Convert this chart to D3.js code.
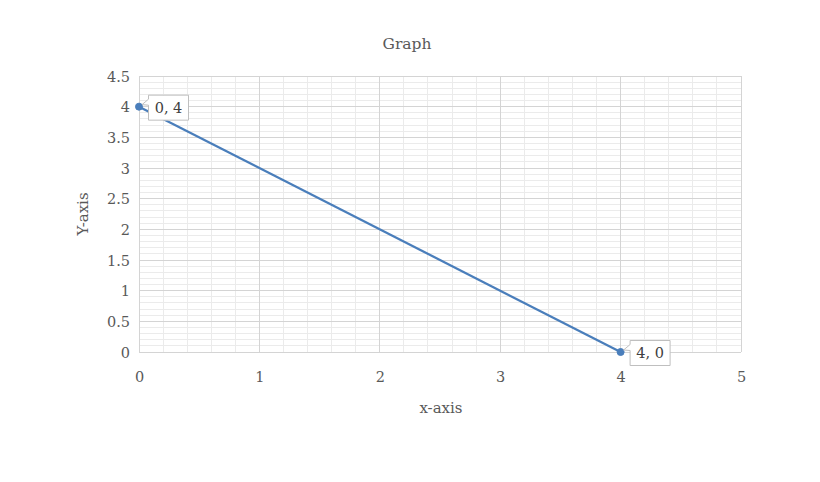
<!DOCTYPE html>
<html><head><meta charset="utf-8">
<script src="https://cdn.jsdelivr.net/npm/d3@7"></script>
<style>body{margin:0;background:#fff}svg{display:block}</style>
</head><body>
<svg id="c" width="820" height="482"></svg>
<script>
const xs = [0, 4];
const ys = [4, 0];
const pointLabels = ["0, 4", "4, 0"];
const xTicks = [0, 1, 2, 3, 4, 5];
const yTicks = [0, 0.5, 1, 1.5, 2, 2.5, 3, 3.5, 4, 4.5];
const title = "Graph";
const xTitle = "x-axis";
const yTitle = "Y-axis";

const svg = d3.select("#c");
const font = "'DejaVu Serif', serif";
const x = d3.scaleLinear().domain([0, 5]).range([139, 741]);
const y = d3.scaleLinear().domain([0, 4.5]).range([352, 76]);

// minor grid
const g = svg.append("g");
g.selectAll(".mx").data(d3.range(0, 5.0001, 0.2)).join("line")
  .attr("x1", d => x(d)).attr("x2", d => x(d)).attr("y1", y(0)).attr("y2", y(4.5))
  .attr("stroke", "#ebebeb").attr("stroke-width", 1).attr("shape-rendering", "crispEdges");
g.selectAll(".my").data(d3.range(0, 4.5001, 0.1)).join("line")
  .attr("y1", d => y(d)).attr("y2", d => y(d)).attr("x1", x(0)).attr("x2", x(5))
  .attr("stroke", "#ebebeb").attr("stroke-width", 1).attr("shape-rendering", "crispEdges");
// major grid
g.selectAll(".Mx").data(xTicks).join("line")
  .attr("x1", d => x(d)).attr("x2", d => x(d)).attr("y1", y(0)).attr("y2", y(4.5))
  .attr("stroke", "#d4d4d4").attr("stroke-width", 1).attr("shape-rendering", "crispEdges");
g.selectAll(".My").data(yTicks).join("line")
  .attr("y1", d => y(d)).attr("y2", d => y(d)).attr("x1", x(0)).attr("x2", x(5))
  .attr("stroke", "#d4d4d4").attr("stroke-width", 1).attr("shape-rendering", "crispEdges");

// axes
const xAxis = svg.append("g").attr("transform", `translate(0,${y(0)})`)
  .call(d3.axisBottom(x).tickValues(xTicks).tickSize(0).tickPadding(22).tickFormat(d3.format("d")));
const yAxis = svg.append("g").attr("transform", `translate(${x(0)},0)`)
  .call(d3.axisLeft(y).tickValues(yTicks).tickSize(0).tickPadding(9).tickFormat(d => String(d)));
[xAxis, yAxis].forEach(a => {
  a.select(".domain").remove();
  a.selectAll("text").attr("font-family", font).attr("font-size", 14.5).attr("fill", "#595959");
});
yAxis.selectAll("text").attr("dy", "0.35em");
xAxis.selectAll("text").attr("dy", "0.55em");

// line
const pts = xs.map((d, i) => [d, ys[i]]);
svg.append("path").datum(pts)
  .attr("d", d3.line().x(d => x(d[0])).y(d => y(d[1])))
  .attr("fill", "none").attr("stroke", "#4a7ebb").attr("stroke-width", 2.25);
svg.selectAll(".pt").data(pts).join("circle")
  .attr("cx", d => x(d[0])).attr("cy", d => y(d[1])).attr("r", 3.5)
  .attr("fill", "#4a7ebb").attr("stroke", "#4a7ebb");

// data labels with callout
pts.forEach((d, i) => {
  const px = x(d[0]), py = y(d[1]);
  const bx = px + 9.5, by = py - 11.5, bw = 40, bh = 25;
  const path = `M${bx},${by} H${bx + bw} V${by + bh} H${bx} V${by + 10} L${px + 3},${py - 2} L${bx},${by + 4} Z`;
  svg.append("path").attr("d", path).attr("fill", "#fff").attr("stroke", "#bfbfbf").attr("stroke-width", 1);
  svg.append("text").attr("x", bx + bw / 2).attr("y", by + bh / 2).attr("dy", "0.35em")
    .attr("text-anchor", "middle").attr("font-family", font).attr("font-size", 14.5)
    .attr("fill", "#404040").text(pointLabels[i]);
});

// titles
svg.append("text").attr("x", 407).attr("y", 44).attr("dy", "0.35em").attr("text-anchor", "middle")
  .attr("font-family", font).attr("font-size", 15.5).attr("fill", "#595959").text(title);
svg.append("text").attr("x", 441).attr("y", 408).attr("dy", "0.35em").attr("text-anchor", "middle")
  .attr("font-family", font).attr("font-size", 15).attr("fill", "#595959").text(xTitle);
svg.append("text").attr("transform", "translate(83,214) rotate(-90)").attr("dy", "0.35em")
  .attr("text-anchor", "middle").attr("font-family", font).attr("font-size", 15)
  .attr("fill", "#595959").text(yTitle);
</script>
</body></html>
